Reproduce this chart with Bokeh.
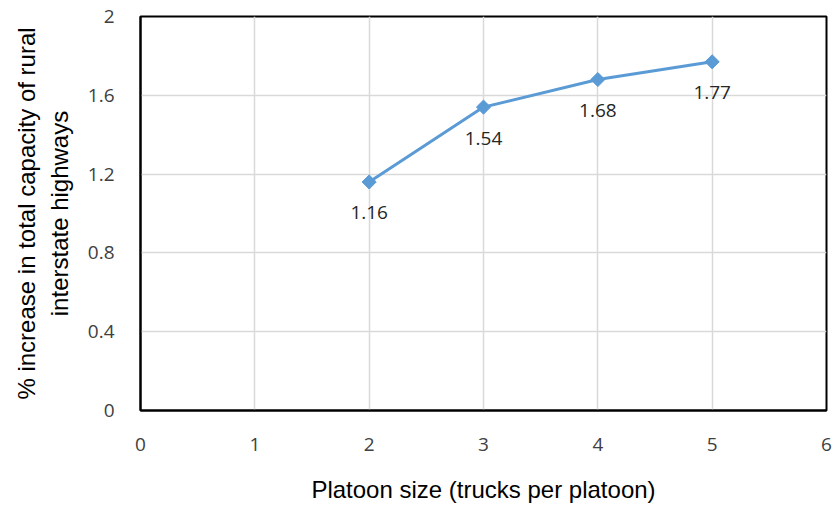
import math
from bokeh.plotting import figure
from bokeh.models import ColumnDataSource, Range1d, FixedTicker
from bokeh.core.properties import value
from bokeh.embed import file_html
from bokeh.resources import INLINE

platoon_size = [2, 3, 4, 5]
capacity_increase = [1.16, 1.54, 1.68, 1.77]
value_labels = ["1.16", "1.54", "1.68", "1.77"]
x_ticks = [0, 1, 2, 3, 4, 5, 6]
y_ticks = [0, 0.4, 0.8, 1.2, 1.6, 2.0]

blue = "#5B9BD5"
tick_font = "Open Sans"
title_font = "Liberation Sans"

p = figure(width=833, height=506, output_backend="svg", toolbar_location=None,
           x_range=Range1d(0, 6), y_range=Range1d(0, 2),
           min_border_left=140, min_border_top=16, min_border_right=7, min_border_bottom=96)
p.outline_line_color = "black"
p.outline_line_width = 2

src = ColumnDataSource(dict(x=platoon_size, y=capacity_increase, lab=value_labels))
p.line("x", "y", source=src, line_color=blue, line_width=3)
p.scatter("x", "y", source=src, marker="square", angle=math.pi / 4, size=10,
          fill_color=blue, line_color=blue)
p.text("x", "y", text="lab", source=src, text_align="center", text_baseline="middle",
       y_offset=31, text_font=value(tick_font), text_font_size="19px", text_color="#262626")

for ax in (p.xaxis[0], p.yaxis[0]):
    ax.major_tick_line_color = None
    ax.minor_tick_line_color = None
    ax.axis_line_color = "black"
    ax.axis_line_width = 2
    ax.major_label_text_font = tick_font
    ax.major_label_text_font_size = "19px"
    ax.major_label_text_color = "#404040"
    ax.axis_label_text_font = title_font
    ax.axis_label_text_font_size = "24px"
    ax.axis_label_text_font_style = "normal"
    ax.axis_label_text_color = "#000000"

p.xaxis.ticker = FixedTicker(ticks=x_ticks)
p.yaxis.ticker = FixedTicker(ticks=y_ticks)
p.yaxis.major_label_overrides = {0: "0", 0.4: "0.4", 0.8: "0.8", 1.2: "1.2", 1.6: "1.6", 2.0: "2"}
p.xaxis.major_label_standoff = 21
p.yaxis.major_label_standoff = 20
p.xaxis.axis_label = "Platoon size (trucks per platoon)"
p.yaxis.axis_label = "% increase in total capacity of rural\ninterstate highways"
p.xaxis.axis_label_standoff = 22
p.yaxis.axis_label_standoff = 12

p.grid.grid_line_color = "#D9D9D9"
p.grid.grid_line_width = 1.5

open("out.html", "w").write(file_html(p, INLINE))
